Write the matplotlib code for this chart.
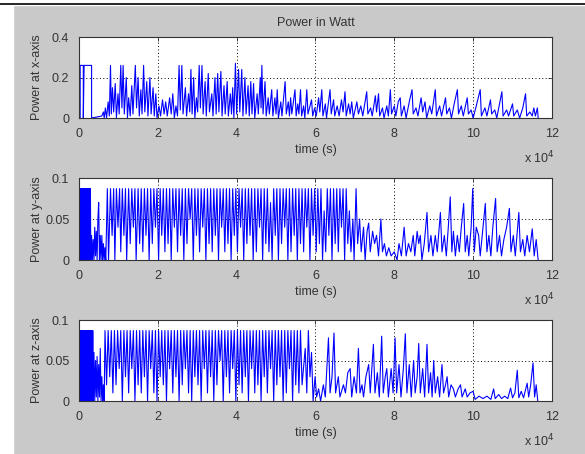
import matplotlib
matplotlib.use('Agg')
import matplotlib.pyplot as plt
from matplotlib.lines import Line2D
from matplotlib.patches import Rectangle

plt.rcParams['font.family'] = ['Liberation Sans', 'DejaVu Sans']

# time in units of 1e4 s, power in W (zigzag vertices)
x_t = [0, 0.03, 0.03, 0.11, 0.11, 0.13, 0.32, 0.32, 0.45, 0.58, 0.62, 0.64, 0.67, 0.70, 0.74, 0.77, 0.80, 0.82, 0.85, 0.88,
       0.92, 0.95, 0.99, 1.02, 1.06, 1.09, 1.12, 1.15, 1.20, 1.23, 1.26, 1.30, 1.34, 1.37, 1.43, 1.46, 1.50, 1.53, 1.57, 1.60,
       1.64, 1.67, 1.72, 1.75, 1.80, 1.83, 1.88, 1.91, 1.95, 1.98, 2.03, 2.07, 2.12, 2.16, 2.20, 2.24, 2.30, 2.34, 2.38, 2.42,
       2.46, 2.50, 2.54, 2.57, 2.61, 2.64, 2.70, 2.73, 2.78, 2.81, 2.84, 2.87, 2.91, 2.94, 2.98, 3.01, 3.05, 3.08, 3.12, 3.15,
       3.20, 3.23, 3.28, 3.31, 3.37, 3.40, 3.45, 3.48, 3.52, 3.55, 3.60, 3.63, 3.68, 3.71, 3.76, 3.79, 3.84, 3.87, 3.90, 3.93,
       3.97, 4.00, 4.05, 4.08, 4.13, 4.16, 4.21, 4.24, 4.29, 4.32, 4.36, 4.39, 4.43, 4.46, 4.52, 4.55, 4.60, 4.62, 4.64, 4.67,
       4.72, 4.75, 4.80, 4.83, 4.89, 4.92, 4.97, 5.00, 5.03, 5.06, 5.12, 5.15, 5.23, 5.26, 5.31, 5.34, 5.37, 5.40, 5.48, 5.51,
       5.55, 5.58, 5.62, 5.65, 5.70, 5.73, 5.78, 5.81, 5.86, 5.90, 5.93, 5.98, 6.02, 6.08, 6.11, 6.16, 6.19, 6.25, 6.28, 6.33,
       6.37, 6.40, 6.46, 6.49, 6.55, 6.60, 6.66, 6.70, 6.75, 6.78, 6.84, 6.88, 6.92, 6.96, 7.05, 7.09, 7.15, 7.20, 7.30, 7.33,
       7.40, 7.44, 7.52, 7.55, 7.60, 7.63, 7.70, 7.74, 7.81, 7.85, 7.90, 7.93, 8.00, 8.04, 8.10, 8.15, 8.18, 8.25, 8.30, 8.38,
       8.45, 8.48, 8.55, 8.60, 8.68, 8.72, 8.78, 8.82, 8.90, 8.95, 9.04, 9.07, 9.15, 9.20, 9.30, 9.33, 9.40, 9.45, 9.52, 9.60,
       9.63, 9.70, 9.75, 9.85, 9.88, 9.95, 10.00, 10.08, 10.18, 10.21, 10.30, 10.35, 10.44, 10.47, 10.55, 10.60, 10.66, 10.73,
       10.76, 10.85, 10.90, 11.00, 11.03, 11.12, 11.18, 11.26, 11.33, 11.36, 11.44, 11.50, 11.54, 11.58, 11.63, 11.65]
x_p = [0, 0, 0.26, 0.26, 0.0, 0.26, 0.26, 0.0, 0.005, 0.01, 0.03, 0.0, 0.05, 0.0, 0.08, 0.01, 0.26, 0.02, 0.15, 0.03,
       0.17, 0.0, 0.12, 0.02, 0.26, 0.05, 0.26, 0.02, 0.20, 0.0, 0.10, 0.01, 0.16, 0.02, 0.26, 0.05, 0.20, 0.01, 0.14, 0.02,
       0.26, 0.03, 0.18, 0.01, 0.20, 0.02, 0.15, 0.01, 0.12, 0.0, 0.06, 0.01, 0.09, 0.02, 0.08, 0.01, 0.10, 0.02, 0.12, 0.0,
       0.06, 0.01, 0.26, 0.04, 0.26, 0.02, 0.15, 0.01, 0.12, 0.03, 0.24, 0.02, 0.20, 0.0, 0.10, 0.03, 0.26, 0.05, 0.26, 0.02,
       0.18, 0.01, 0.22, 0.03, 0.12, 0.01, 0.20, 0.02, 0.22, 0.03, 0.23, 0.01, 0.16, 0.02, 0.18, 0.01, 0.12, 0.02, 0.15, 0.0,
       0.27, 0.02, 0.24, 0.03, 0.24, 0.01, 0.20, 0.02, 0.16, 0.01, 0.18, 0.02, 0.17, 0.0, 0.12, 0.02, 0.20, 0.05, 0.26, 0.02,
       0.18, 0.01, 0.10, 0.02, 0.14, 0.01, 0.10, 0.02, 0.14, 0.0, 0.08, 0.01, 0.18, 0.02, 0.08, 0.01, 0.10, 0.02, 0.14, 0.01,
       0.07, 0.02, 0.14, 0.01, 0.06, 0.0, 0.14, 0.02, 0.06, 0.09, 0.01, 0.05, 0.01, 0.10, 0.03, 0.14, 0.01, 0.07, 0.0, 0.08,
       0.14, 0.02, 0.09, 0.01, 0.06, 0.01, 0.09, 0.03, 0.13, 0.01, 0.07, 0.02, 0.08, 0.0, 0.08, 0.02, 0.06, 0.01, 0.13, 0.02,
       0.05, 0.01, 0.11, 0.03, 0.12, 0.01, 0.05, 0.0, 0.06, 0.01, 0.14, 0.02, 0.06, 0.01, 0.08, 0.10, 0.01, 0.06, 0.0, 0.08,
       0.14, 0.02, 0.05, 0.01, 0.10, 0.03, 0.08, 0.0, 0.06, 0.02, 0.14, 0.01, 0.06, 0.01, 0.10, 0.02, 0.05, 0.0, 0.07, 0.14,
       0.02, 0.06, 0.01, 0.10, 0.02, 0.04, 0.0, 0.06, 0.14, 0.01, 0.05, 0.01, 0.09, 0.02, 0.04, 0.0, 0.06, 0.13,
       0.01, 0.04, 0.01, 0.07, 0.01, 0.04, 0.0, 0.05, 0.12, 0.01, 0.03, 0.01, 0.05, 0.01, 0.05, 0.0]

y_t = [0, 0.01, 0.02, 0.03, 0.04, 0.05, 0.06, 0.07, 0.08, 0.09, 0.10, 0.11, 0.12, 0.13, 0.14, 0.15, 0.16, 0.17, 0.18, 0.19,
       0.20, 0.21, 0.22, 0.23, 0.24, 0.25, 0.26, 0.27, 0.28, 0.29, 0.30, 0.32, 0.34, 0.36, 0.38, 0.40, 0.42, 0.44, 0.46, 0.48,
       0.50, 0.52, 0.54, 0.56, 0.58, 0.60, 0.62, 0.64, 0.66, 0.68,
       0.72, 0.75, 0.80, 0.84, 0.88, 0.91, 0.95, 0.99, 1.03, 1.06, 1.10, 1.14, 1.18, 1.21, 1.26, 1.30, 1.34, 1.38, 1.42, 1.45,
       1.50, 1.54, 1.58, 1.62, 1.66, 1.70, 1.74, 1.78, 1.82, 1.86, 1.90, 1.94, 1.98, 2.02, 2.06, 2.10, 2.14, 2.18, 2.22, 2.26,
       2.30, 2.34, 2.38, 2.42, 2.46, 2.50, 2.54, 2.58, 2.62, 2.66, 2.70, 2.74, 2.78, 2.82, 2.86, 2.90, 2.94, 2.98, 3.02, 3.06,
       3.10, 3.14, 3.18, 3.22, 3.26, 3.30, 3.34, 3.38, 3.42, 3.46, 3.50, 3.54, 3.58, 3.62, 3.66, 3.70, 3.74, 3.78, 3.82, 3.86,
       3.90, 3.94, 3.98, 4.02, 4.06, 4.10, 4.14, 4.18, 4.22, 4.26, 4.30, 4.34, 4.38, 4.42, 4.46, 4.50, 4.54, 4.58, 4.62, 4.66,
       4.70, 4.74, 4.78, 4.82, 4.86, 4.90, 4.94, 4.98, 5.02, 5.06, 5.10, 5.14, 5.18, 5.22, 5.26, 5.30, 5.34, 5.38, 5.42, 5.46,
       5.50, 5.54, 5.58, 5.62, 5.66, 5.70, 5.74, 5.78, 5.82, 5.86, 5.90, 5.94, 5.98, 6.02, 6.06, 6.10, 6.14, 6.18, 6.22, 6.26,
       6.30, 6.34, 6.38, 6.42, 6.46, 6.50, 6.54, 6.58, 6.62, 6.66, 6.70, 6.74, 6.78, 6.82, 6.86, 6.90, 6.95, 6.98, 7.03, 7.07,
       7.12, 7.16, 7.22, 7.26, 7.31, 7.35, 7.39, 7.45, 7.50, 7.55, 7.60, 7.66, 7.70, 7.75, 7.80, 7.86, 7.92, 8.00, 8.07, 8.12,
       8.18, 8.25, 8.30, 8.36, 8.42, 8.48, 8.52, 8.58, 8.62, 8.66, 8.70, 8.76, 8.83, 8.87, 8.93, 8.98, 9.04, 9.09, 9.17, 9.21,
       9.27, 9.32, 9.37, 9.42, 9.46, 9.50, 9.55, 9.60, 9.65, 9.70, 9.76, 9.80, 9.85, 9.89, 9.95, 9.99, 10.03, 10.08, 10.14, 10.18,
       10.25, 10.31, 10.35, 10.40, 10.45, 10.50, 10.57, 10.61, 10.67, 10.72, 10.78, 10.85, 10.92, 10.96, 11.02, 11.07, 11.12, 11.16,
       11.20, 11.26, 11.31, 11.37, 11.43, 11.50, 11.55, 11.60, 11.65]
y_p = [0, 0.087, 0.0, 0.087, 0.0, 0.087, 0.0, 0.087, 0.0, 0.087, 0.0, 0.087, 0.0, 0.087, 0.0, 0.087, 0.0, 0.087, 0.0, 0.087,
       0.0, 0.087, 0.0, 0.087, 0.0, 0.087, 0.0, 0.087, 0.0, 0.087, 0.0, 0.03, 0.0, 0.025, 0.0, 0.04, 0.005, 0.035, 0.0, 0.05,
       0.07, 0.0, 0.03, 0.0, 0.03, 0.0, 0.02, 0.0, 0.015, 0.0,
       0.087, 0.0, 0.087, 0.03, 0.087, 0.0, 0.087, 0.04, 0.087, 0.01, 0.087, 0.03, 0.087, 0.0, 0.087, 0.02, 0.087, 0.04, 0.087, 0.0,
       0.087, 0.02, 0.087, 0.01, 0.087, 0.03, 0.087, 0.0, 0.087, 0.02, 0.087, 0.04, 0.087, 0.0, 0.087, 0.03, 0.087, 0.01, 0.087, 0.02,
       0.087, 0.0, 0.087, 0.04, 0.087, 0.01, 0.087, 0.03, 0.087, 0.0, 0.087, 0.02, 0.087, 0.05, 0.087, 0.0, 0.087, 0.03, 0.087, 0.01,
       0.087, 0.04, 0.087, 0.0, 0.087, 0.02, 0.087, 0.01, 0.087, 0.03, 0.087, 0.0, 0.087, 0.04, 0.087, 0.01, 0.087, 0.02, 0.087, 0.0,
       0.087, 0.03, 0.087, 0.01, 0.087, 0.04, 0.087, 0.0, 0.087, 0.02, 0.087, 0.03, 0.087, 0.0, 0.087, 0.01, 0.087, 0.04, 0.087, 0.0,
       0.087, 0.02, 0.087, 0.01, 0.07, 0.0, 0.087, 0.03, 0.087, 0.0, 0.087, 0.02, 0.087, 0.04, 0.087, 0.0, 0.087, 0.01, 0.087, 0.03,
       0.087, 0.0, 0.087, 0.02, 0.087, 0.01, 0.087, 0.04, 0.087, 0.0, 0.087, 0.03, 0.087, 0.01, 0.087, 0.02, 0.087, 0.0, 0.06, 0.01,
       0.087, 0.03, 0.087, 0.0, 0.087, 0.02, 0.087, 0.01, 0.087, 0.04, 0.087, 0.0, 0.087, 0.02, 0.06, 0.01, 0.05, 0.0, 0.087, 0.02,
       0.05, 0.01, 0.04, 0.0, 0.035, 0.045, 0.01, 0.035, 0.02, 0.03, 0.005, 0.05, 0.01, 0.02, 0.005, 0.015, 0.005, 0.01, 0.0, 0.02,
       0.005, 0.04, 0.005, 0.02, 0.01, 0.03, 0.005, 0.035, 0.02, 0.03, 0.0, 0.02, 0.058, 0.01, 0.03, 0.005, 0.03, 0.01, 0.058, 0.01,
       0.03, 0.005, 0.04, 0.077, 0.01, 0.035, 0.005, 0.03, 0.01, 0.04, 0.069, 0.01, 0.03, 0.005, 0.04, 0.087, 0.01, 0.04, 0.03, 0.005,
       0.04, 0.069, 0.01, 0.03, 0.005, 0.04, 0.075, 0.01, 0.03, 0.005, 0.025, 0.04, 0.063, 0.01, 0.03, 0.005, 0.035, 0.058,
       0.01, 0.025, 0.005, 0.03, 0.01, 0.038, 0.005, 0.025, 0.0]

z_t = [0, 0.01, 0.02, 0.03, 0.04, 0.05, 0.06, 0.07, 0.08, 0.09, 0.10, 0.11, 0.12, 0.13, 0.14, 0.15, 0.16, 0.17, 0.18, 0.19,
       0.20, 0.21, 0.22, 0.23, 0.24, 0.25, 0.26, 0.27, 0.28, 0.29, 0.30, 0.31, 0.32, 0.33, 0.34, 0.35, 0.36,
       0.38, 0.40, 0.42, 0.44, 0.46, 0.48, 0.50, 0.52, 0.54, 0.56, 0.58, 0.60, 0.62, 0.64,
       0.66, 0.70, 0.74, 0.78, 0.82, 0.86, 0.90, 0.94, 0.98, 1.02, 1.06, 1.10, 1.14, 1.18, 1.22, 1.26, 1.30, 1.34, 1.38, 1.42,
       1.46, 1.50, 1.54, 1.58, 1.62, 1.66, 1.70, 1.74, 1.78, 1.82, 1.86, 1.90, 1.94, 1.98, 2.02, 2.06, 2.10, 2.14, 2.18, 2.22,
       2.26, 2.30, 2.34, 2.38, 2.42, 2.46, 2.50, 2.54, 2.58, 2.62, 2.66, 2.70, 2.74, 2.78, 2.82, 2.86, 2.90, 2.94, 2.98, 3.02,
       3.06, 3.10, 3.14, 3.18, 3.22, 3.26, 3.30, 3.34, 3.38, 3.42, 3.46, 3.50, 3.54, 3.58, 3.62, 3.66, 3.70, 3.74, 3.78, 3.82,
       3.86, 3.90, 3.94, 3.98, 4.02, 4.06, 4.10, 4.14, 4.18, 4.22, 4.26, 4.30, 4.34, 4.38, 4.42, 4.46, 4.50, 4.54, 4.58, 4.62,
       4.66, 4.70, 4.74, 4.78, 4.82, 4.86, 4.90, 4.94, 4.98, 5.02, 5.06, 5.10, 5.14, 5.18, 5.22, 5.26, 5.30, 5.34, 5.38, 5.42,
       5.46, 5.50, 5.54, 5.58, 5.62, 5.66, 5.74, 5.78, 5.82, 5.86, 5.90, 5.94, 5.99, 6.03, 6.08, 6.13, 6.20, 6.25, 6.33, 6.37,
       6.42, 6.47, 6.51, 6.58, 6.62, 6.71, 6.76, 6.82, 6.88, 6.92, 6.98, 7.04, 7.09, 7.13, 7.18, 7.22, 7.28, 7.35, 7.39, 7.47,
       7.51, 7.57, 7.62, 7.68, 7.72, 7.77, 7.81, 7.85, 7.92, 7.97, 8.02, 8.06, 8.12, 8.17, 8.23, 8.28, 8.32, 8.38, 8.43, 8.49,
       8.53, 8.58, 8.62, 8.66, 8.72, 8.77, 8.83, 8.87, 8.92, 8.96, 9.00, 9.04, 9.10, 9.15, 9.21, 9.25, 9.30, 9.34, 9.38, 9.44,
       9.50, 9.55, 9.62, 9.68, 9.72, 9.80, 9.85, 9.92, 10.00, 10.05, 10.15, 10.25, 10.35, 10.45, 10.52, 10.56, 10.65, 10.72,
       10.80, 10.88, 10.95, 11.00, 11.06, 11.12, 11.16, 11.22, 11.28, 11.37, 11.41, 11.46, 11.52, 11.56, 11.60, 11.64]
z_p = [0, 0.087, 0.0, 0.087, 0.0, 0.087, 0.0, 0.087, 0.0, 0.087, 0.0, 0.087, 0.0, 0.087, 0.0, 0.087, 0.0, 0.087, 0.0, 0.087,
       0.0, 0.087, 0.0, 0.087, 0.0, 0.087, 0.0, 0.087, 0.0, 0.087, 0.0, 0.087, 0.0, 0.087, 0.0, 0.087, 0.0,
       0.06, 0.0, 0.05, 0.005, 0.055, 0.0, 0.045, 0.005, 0.065, 0.0, 0.03, 0.0, 0.02, 0.0,
       0.087, 0.02, 0.087, 0.03, 0.087, 0.01, 0.087, 0.02, 0.087, 0.04, 0.087, 0.0, 0.087, 0.03, 0.087, 0.01, 0.087, 0.04, 0.087, 0.0,
       0.087, 0.02, 0.087, 0.01, 0.087, 0.03, 0.087, 0.0, 0.087, 0.04, 0.087, 0.01, 0.087, 0.0, 0.087, 0.03, 0.087, 0.02, 0.087, 0.0,
       0.087, 0.04, 0.087, 0.01, 0.087, 0.03, 0.087, 0.0, 0.087, 0.02, 0.087, 0.04, 0.087, 0.01, 0.087, 0.0, 0.087, 0.03, 0.087, 0.02,
       0.087, 0.0, 0.087, 0.04, 0.087, 0.01, 0.087, 0.03, 0.087, 0.0, 0.087, 0.02, 0.087, 0.05, 0.087, 0.0, 0.087, 0.03, 0.087, 0.01,
       0.087, 0.04, 0.087, 0.0, 0.087, 0.02, 0.087, 0.01, 0.087, 0.03, 0.087, 0.0, 0.087, 0.04, 0.087, 0.01, 0.087, 0.02, 0.087, 0.0,
       0.087, 0.03, 0.087, 0.01, 0.087, 0.04, 0.087, 0.0, 0.087, 0.02, 0.087, 0.03, 0.087, 0.0, 0.087, 0.01, 0.087, 0.04, 0.087, 0.0,
       0.087, 0.02, 0.087, 0.01, 0.087, 0.02, 0.065, 0.01, 0.087, 0.03, 0.06, 0.0, 0.03, 0.005, 0.015, 0.0, 0.02, 0.005, 0.078, 0.01,
       0.03, 0.084, 0.01, 0.03, 0.005, 0.02, 0.01, 0.035, 0.04, 0.005, 0.03, 0.01, 0.065, 0.01, 0.02, 0.005, 0.03, 0.045, 0.01, 0.07,
       0.01, 0.035, 0.005, 0.08, 0.01, 0.03, 0.04, 0.005, 0.04, 0.01, 0.078, 0.01, 0.045, 0.005, 0.04, 0.083, 0.01, 0.045, 0.005, 0.05,
       0.01, 0.03, 0.071, 0.01, 0.04, 0.005, 0.07, 0.01, 0.035, 0.005, 0.05, 0.01, 0.03, 0.005, 0.045, 0.01, 0.02, 0.03, 0.005, 0.02,
       0.015, 0.005, 0.015, 0.02, 0.005, 0.015, 0.005, 0.01, 0.012, 0.002, 0.006, 0.003, 0.006, 0.002, 0.015, 0.003, 0.008, 0.003,
       0.006, 0.003, 0.016, 0.004, 0.01, 0.038, 0.004, 0.012, 0.004, 0.022, 0.005, 0.02, 0.047, 0.005, 0.02, 0.0]

panels = [
    (x_t, x_p, 'Power at x-axis', [0, 0.2, 0.4], ['0', '0.2', '0.4'], 0.4),
    (y_t, y_p, 'Power at y-axis', [0, 0.05, 0.1], ['0', '0.05', '0.1'], 0.1),
    (z_t, z_p, 'Power at z-axis', [0, 0.05, 0.1], ['0', '0.05', '0.1'], 0.1),
]
boxes = [[0.135, 0.740, 0.8085, 0.1784],
         [0.135, 0.4273, 0.8085, 0.1806],
         [0.135, 0.1167, 0.8085, 0.1784]]

fig = plt.figure(figsize=(5.85, 4.54), dpi=100, facecolor='#c9c9c9')
fig.add_artist(Rectangle((0, 0), 13 / 585, 1, transform=fig.transFigure, color='white', zorder=0))
fig.add_artist(Rectangle((0, 1 - 5 / 454), 1, 5 / 454, transform=fig.transFigure, color='white', zorder=0))
fig.add_artist(Line2D([0, 1], [1 - 3.5 / 454] * 2, transform=fig.transFigure, color='black', lw=1.2))

for (t, p, ylab, yt, ytl, ymax), box in zip(panels, boxes):
    ax = fig.add_axes(box)
    ax.set_facecolor('white')
    ax.plot(t, p, color='#0000ff', lw=0.8)
    ax.set_xlim(0, 12)
    ax.set_ylim(0, ymax)
    ax.set_xticks(range(0, 13, 2))
    ax.set_xticklabels([str(v) for v in range(0, 13, 2)])
    ax.set_yticks(yt)
    ax.set_yticklabels(ytl)
    ax.tick_params(direction='in', length=3, width=0.6, top=True, right=True,
                   labelsize=9, labelcolor='#333333', pad=7, color='#333333')
    ax.grid(True, color='black', ls=(0, (1, 2.5)), lw=0.7)
    for s in ax.spines.values():
        s.set_color('#333333')
        s.set_linewidth(0.8)
    ax.set_xlabel('time (s)', fontsize=9, color='#333333', labelpad=3)
    ax.set_ylabel(ylab, fontsize=9, color='#333333')
    ax.yaxis.set_label_coords(-0.076, 0.5)
    ax.text(1.005, -0.49, r'x 10$^{4}$', transform=ax.transAxes, ha='right', va='center',
            fontsize=9, color='#333333')
    if ylab.endswith('x-axis'):
        ax.set_title('Power in Watt', fontsize=9, color='#333333', pad=8)

fig.savefig('out.png', dpi=100, facecolor=fig.get_facecolor())
